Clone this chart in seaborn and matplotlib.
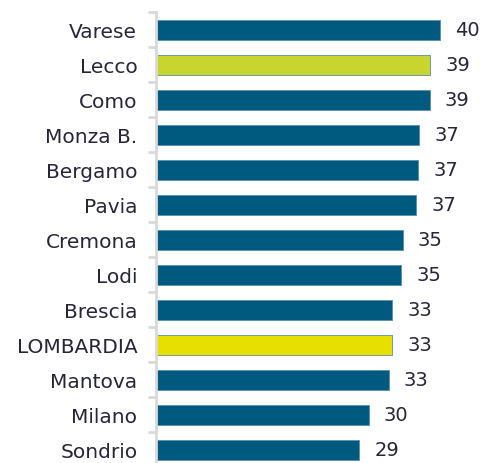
import matplotlib
matplotlib.use("Agg")
import matplotlib.pyplot as plt
from matplotlib.ticker import FixedLocator
import seaborn as sns
import pandas as pd
import numpy as np

provinces = ["Varese", "Lecco", "Como", "Monza B.", "Bergamo", "Pavia", "Cremona",
             "Lodi", "Brescia", "LOMBARDIA", "Mantova", "Milano", "Sondrio"]
values = [40.0, 38.7, 38.6, 37.1, 37.0, 36.7, 34.8, 34.6, 33.3, 33.3, 32.8, 30.0, 28.7]
bar_colors = ["#005A80", "#C8D52F", "#005A80", "#005A80", "#005A80", "#005A80", "#005A80",
              "#005A80", "#005A80", "#E6DF00", "#005A80", "#005A80", "#005A80"]

df = pd.DataFrame({"provincia": provinces, "valore": values})

sns.set_style("white")
plt.rcParams["font.family"] = ["DejaVu Sans"]

fig = plt.figure(figsize=(4.8, 4.64), dpi=100)
ax = fig.add_axes([156 / 480, 1 - 468.3 / 464, 319 / 480, 455 / 464])

sns.barplot(data=df, x="valore", y="provincia", hue="provincia", palette=bar_colors,
            legend=False, width=0.58, ax=ax, linewidth=0.6, edgecolor="#5a8fae",
            saturation=1)

text_color = "#27253A"
for cont in ax.containers:
    ax.bar_label(cont, fmt="%.0f", padding=11, fontsize=14, color=text_color)

ax.set_xlim(0, 45)
ax.set_ylim(len(provinces) - 0.5, -0.5)
ax.set_xlabel("")
ax.set_ylabel("")
ax.set_xticks([])

for side in ["top", "right", "bottom"]:
    ax.spines[side].set_visible(False)
ax.spines["left"].set_color("#d9d9d9")
ax.spines["left"].set_linewidth(2)

ax.yaxis.set_minor_locator(FixedLocator(np.arange(-0.5, len(provinces), 1.0)))
ax.tick_params(axis="y", which="major", length=0, pad=13.5, labelsize=14.5, labelcolor=text_color)
ax.tick_params(axis="y", which="minor", length=6, width=2, color="#d9d9d9", left=True)

fig.savefig("out.png", dpi=100)
